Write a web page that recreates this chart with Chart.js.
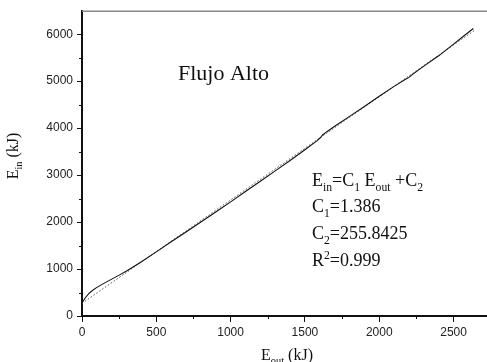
<!DOCTYPE html>
<html>
<head>
<meta charset="utf-8">
<script src="https://cdn.jsdelivr.net/npm/chart.js@4/dist/chart.umd.min.js"></script>
<style>
html, body { margin: 0; padding: 0; background: #fff; overflow: hidden; }
#wrap { position: relative; width: 487px; height: 362px; }
</style>
</head>
<body>
<div id="wrap"><canvas id="myChart"></canvas></div>
<script>
// datos
var eOut = [0, 25, 50, 75, 100, 150, 200, 250, 300, 400, 500, 600, 700, 800, 900, 1000, 1100, 1200, 1300, 1400, 1500, 1580, 1605, 1620, 1650, 1700, 1800, 1900, 2000, 2100, 2180, 2200, 2220, 2300, 2400, 2500, 2560, 2633];
var eIn = [283, 400, 490, 555, 610, 700, 785, 870, 960, 1155, 1365, 1580, 1790, 2000, 2215, 2430, 2650, 2870, 3090, 3310, 3540, 3730, 3800, 3860, 3930, 4040, 4250, 4460, 4680, 4890, 5045, 5080, 5135, 5320, 5540, 5790, 5940, 6121];
var fitX = [0, 2640];
var fitY = [270, 6080];
var xTicks = [0, 250, 500, 750, 1000, 1250, 1500, 1750, 2000, 2250, 2500];
var yTicks = [0, 500, 1000, 1500, 2000, 2500, 3000, 3500, 4000, 4500, 5000, 5500, 6000];

var serif = '"Liberation Serif", "Times New Roman", serif';

// dibuja texto con subindices y superindices
function drawRuns(ctx, x, y, runs, size) {
	runs.forEach(r => {
		let s = size, dy = 0;
		if (r[1] == "sub") { s = size * 0.65; dy = size * 0.25; }
		if (r[1] == "sup") { s = size * 0.65; dy = -size * 0.38; }
		ctx.font = s + "px " + serif;
		ctx.fillText(r[0], x, y + dy);
		x += ctx.measureText(r[0]).width;
	});
}
function runsWidth(ctx, runs, size) {
	let w = 0;
	runs.forEach(r => {
		let s = r[1] == "n" ? size : size * 0.65;
		ctx.font = s + "px " + serif;
		w += ctx.measureText(r[0]).width;
	});
	return w;
}

var extras = {
	id: 'extras',
	afterDraw(chart) {
		const ctx = chart.ctx;
		const a = chart.chartArea;
		const xs = chart.scales.x, ys = chart.scales.y;
		ctx.save();
		// borde superior
		ctx.strokeStyle = '#888';
		ctx.lineWidth = 1.5;
		ctx.beginPath();
		ctx.moveTo(a.left, a.top);
		ctx.lineTo(a.right, a.top);
		ctx.stroke();
		// ticks menores
		ctx.strokeStyle = '#111';
		ctx.lineWidth = 1;
		xTicks.forEach(v => {
			if (v % 500 != 0) {
				let px = Math.round(xs.getPixelForValue(v)) + 0.5;
				ctx.beginPath(); ctx.moveTo(px, a.bottom); ctx.lineTo(px, a.bottom + 3); ctx.stroke();
			}
		});
		yTicks.forEach(v => {
			if (v % 1000 != 0) {
				let py = Math.round(ys.getPixelForValue(v)) + 0.5;
				ctx.beginPath(); ctx.moveTo(a.left, py); ctx.lineTo(a.left - 3, py); ctx.stroke();
			}
		});
		ctx.fillStyle = '#111';
		ctx.textBaseline = 'alphabetic';
		ctx.textAlign = 'left';
		ctx.font = '22px ' + serif;
		ctx.fillText('Flujo Alto', 178, 80);
		drawRuns(ctx, 312, 186, [['E','n'],['in','sub'],['=C','n'],['1','sub'],[' E','n'],['out','sub'],[' +C','n'],['2','sub']], 18);
		drawRuns(ctx, 312, 212, [['C','n'],['1','sub'],['=1.386','n']], 18);
		drawRuns(ctx, 312, 239, [['C','n'],['2','sub'],['=255.8425','n']], 18);
		drawRuns(ctx, 312, 266, [['R','n'],['2','sup'],['=0.999','n']], 18);
		// titulos de ejes
		let xt = [['E','n'],['out','sub'],[' (kJ)','n']];
		drawRuns(ctx, 287 - runsWidth(ctx, xt, 16) / 2, 360, xt, 16);
		let yt = [['E','n'],['in','sub'],[' (kJ)','n']];
		ctx.translate(18, 156);
		ctx.rotate(-Math.PI / 2);
		drawRuns(ctx, -runsWidth(ctx, yt, 16) / 2, 0, yt, 16);
		ctx.restore();
	}
};

const ctx = document.getElementById('myChart').getContext('2d');
var myChart = new Chart(ctx, {
	type: 'scatter',
	data: {
		datasets: [{
			data: eOut.map((x, i) => ({ x: x, y: eIn[i] })),
			showLine: true,
			borderColor: '#111',
			borderWidth: 1.1,
			pointRadius: 0,
			tension: 0
		}, {
			data: fitX.map((x, i) => ({ x: x, y: fitY[i] })),
			showLine: true,
			borderColor: '#555',
			borderWidth: 1,
			borderDash: [1.5, 2],
			pointRadius: 0
		}]
	},
	options: {
		responsive: true,
		maintainAspectRatio: false,
		animation: false,
		layout: { padding: { top: 11, right: 0, left: 0, bottom: 0 } },
		plugins: { legend: { display: false }, tooltip: { enabled: false } },
		scales: {
			x: {
				type: 'linear',
				min: 0,
				max: 2725,
				afterBuildTicks: s => { s.ticks = xTicks.map(v => ({ value: v })); },
				afterFit: s => { s.height = 46; },
				border: { display: true, color: '#111', width: 2 },
				grid: {
					drawOnChartArea: false,
					drawTicks: true,
					tickLength: 6,
					tickColor: c => (c.tick && c.tick.value % 500 == 0) ? '#111' : 'rgba(0,0,0,0)'
				},
				ticks: {
					maxRotation: 0,
					autoSkip: false,
					padding: 3,
					color: '#222',
					font: { family: '"Liberation Sans", Arial, sans-serif', size: 12 },
					callback: v => v % 500 == 0 ? v : ''
				}
			},
			y: {
				type: 'linear',
				min: 0,
				max: 6490,
				afterBuildTicks: s => { s.ticks = yTicks.map(v => ({ value: v })); },
				afterFit: s => { s.width = 82; },
				border: { display: true, color: '#111', width: 2 },
				grid: {
					drawOnChartArea: false,
					drawTicks: true,
					tickLength: 5,
					tickColor: c => (c.tick && c.tick.value % 1000 == 0) ? '#111' : 'rgba(0,0,0,0)'
				},
				ticks: {
					autoSkip: false,
					padding: 4,
					color: '#222',
					font: { family: '"Liberation Sans", Arial, sans-serif', size: 12 },
					callback: v => v % 1000 == 0 ? v : ''
				}
			}
		}
	},
	plugins: [extras]
});
</script>
</body>
</html>
